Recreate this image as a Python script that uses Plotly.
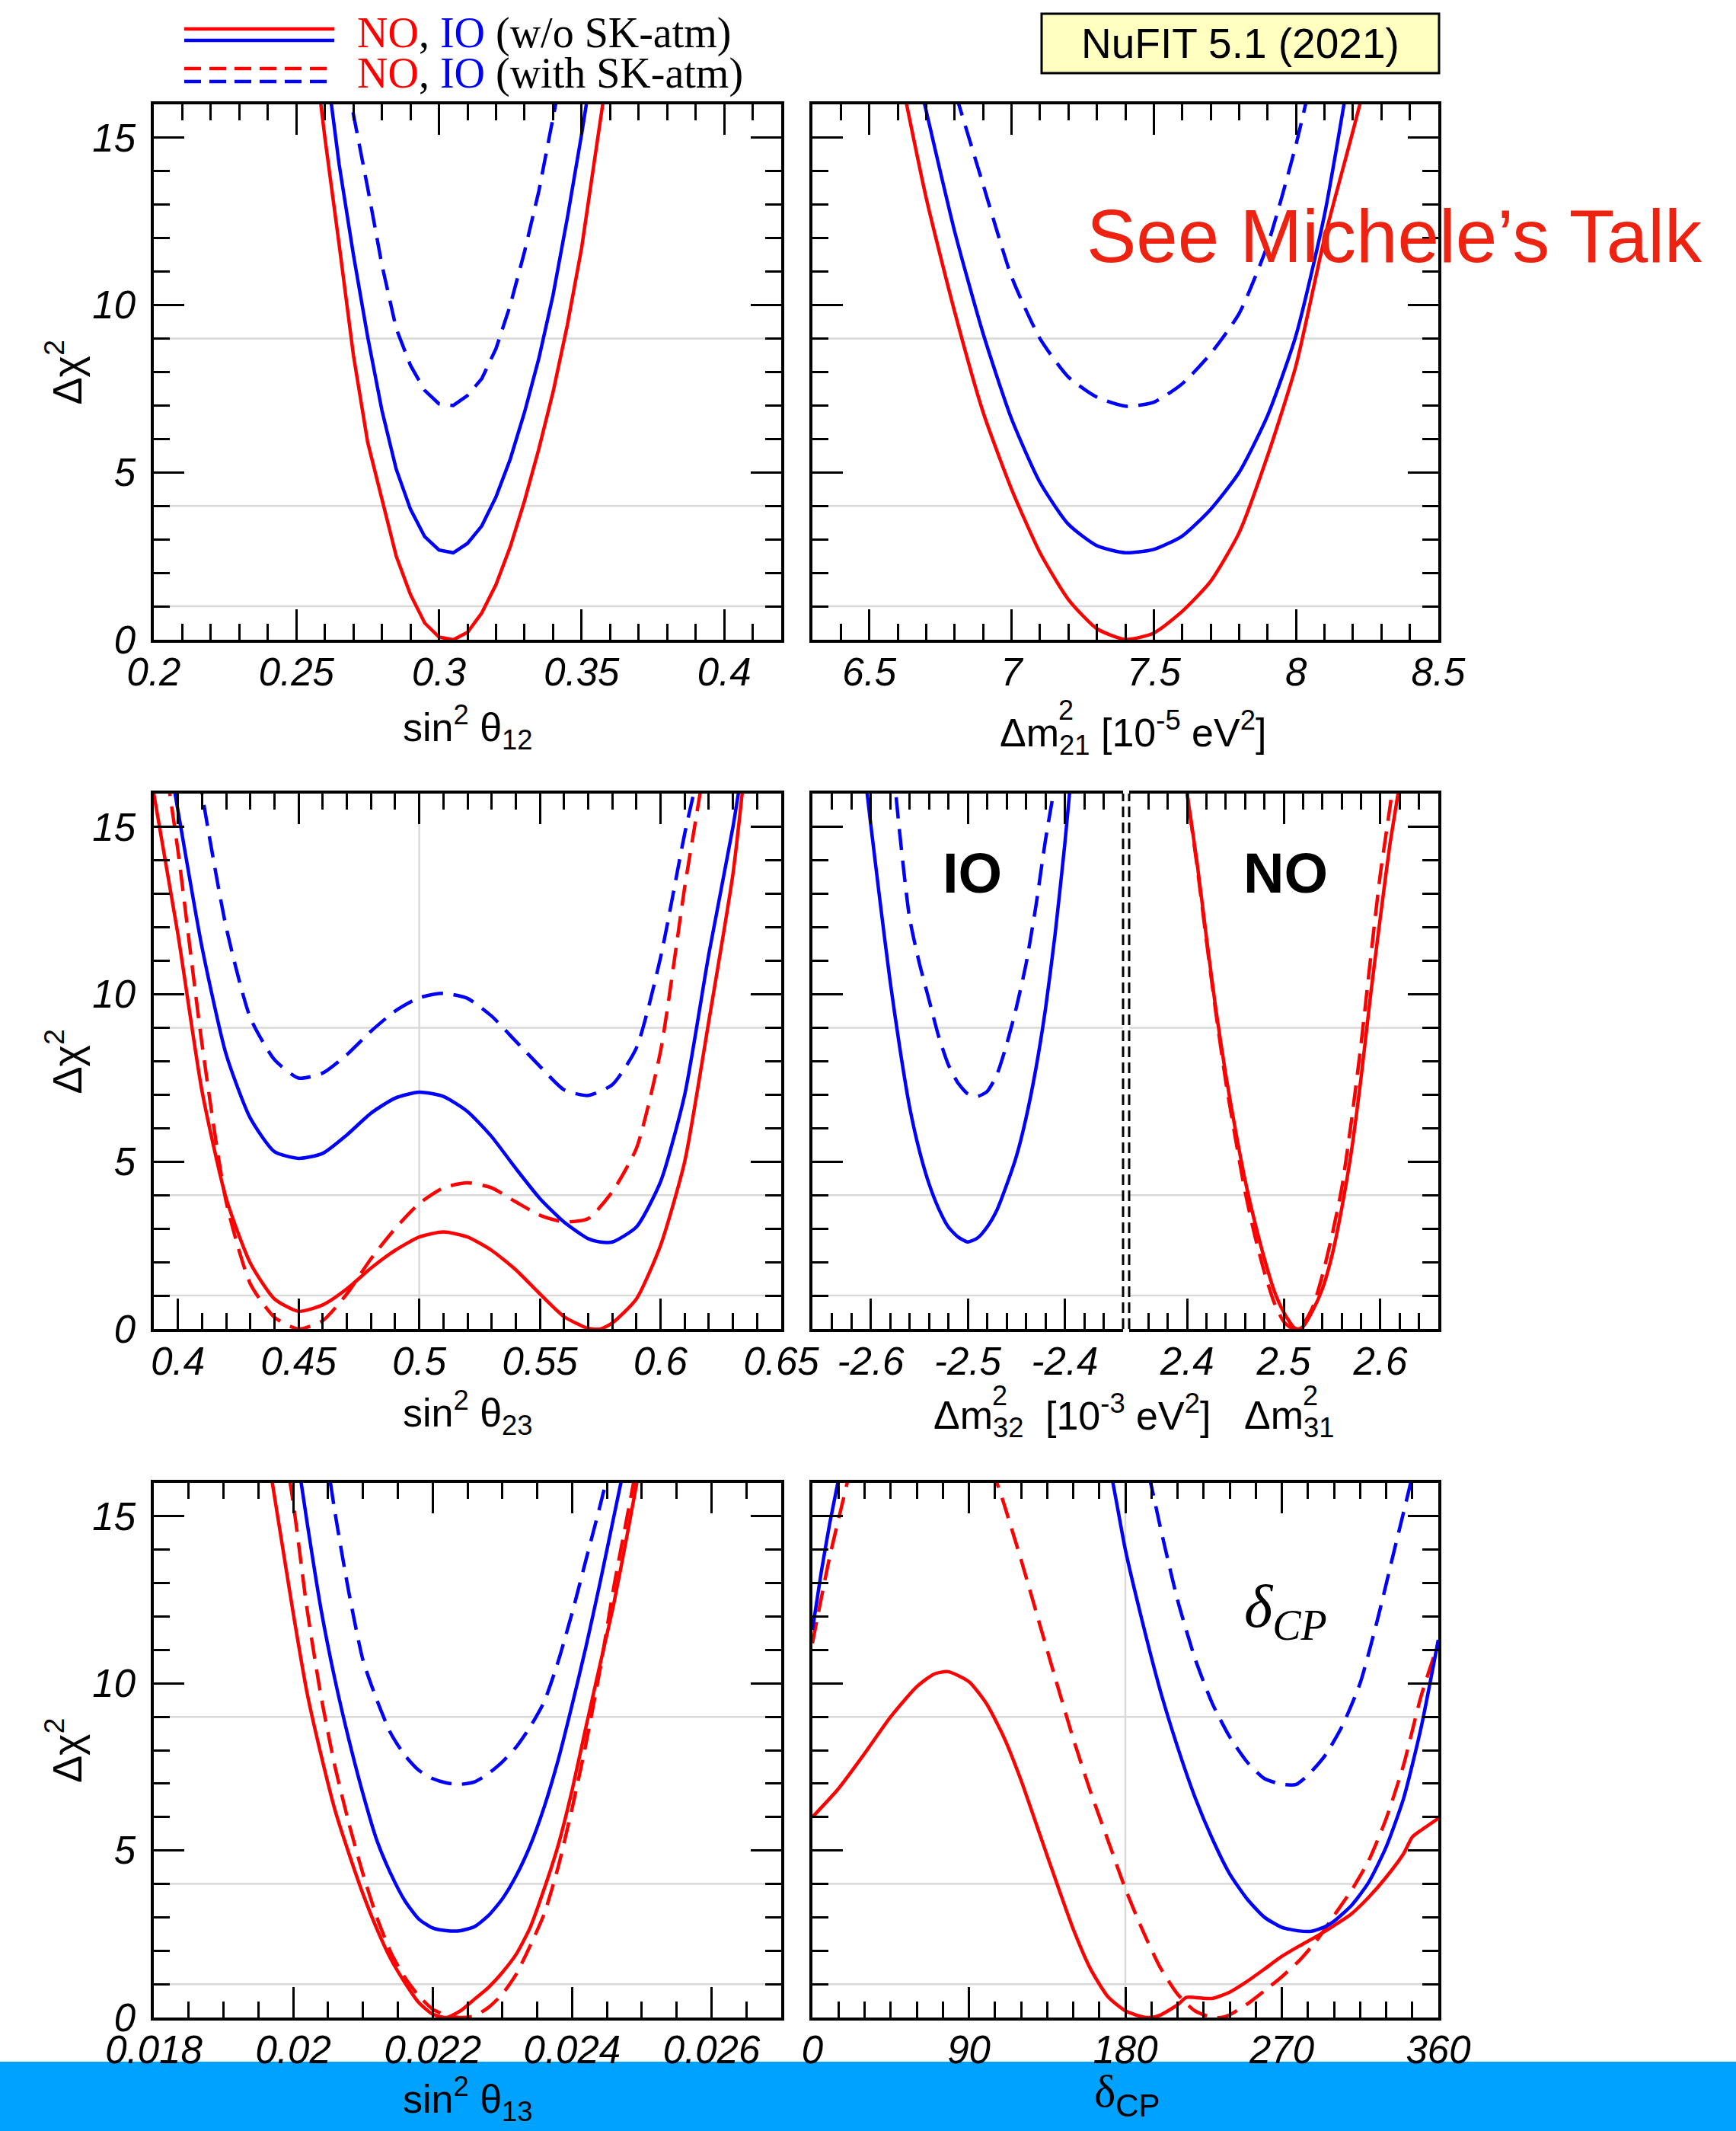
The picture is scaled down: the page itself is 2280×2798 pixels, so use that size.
import plotly.graph_objects as go

# ---------------- data: delta chi^2 profiles ----------------
# sin^2 theta_12
S12_X_NO = [0.255, 0.260, 0.265, 0.270, 0.275, 0.280, 0.285, 0.290, 0.295, 0.300, 0.305,
            0.310, 0.315, 0.320, 0.325, 0.330, 0.335, 0.340, 0.345, 0.350, 0.355, 0.360]
S12_NO = [18.5, 15.0, 11.8, 8.5, 5.9, 4.2, 2.5, 1.35, 0.5, 0.08, 0.0,
          0.22, 0.8, 1.65, 2.78, 4.15, 5.7, 7.4, 9.4, 11.7, 14.6, 17.5]
S12_X_IO = [0.260, 0.265, 0.270, 0.275, 0.280, 0.285, 0.290, 0.295, 0.300, 0.305,
            0.310, 0.315, 0.320, 0.325, 0.330, 0.335, 0.340, 0.345, 0.350, 0.355]
S12_IO = [17.5, 14.2, 11.5, 9.05, 6.85, 5.1, 3.9, 3.08, 2.68, 2.6,
          2.88, 3.4, 4.27, 5.4, 6.8, 8.4, 10.3, 12.6, 15.1, 17.8]
S12_X_IO_SK = [0.265, 0.270, 0.275, 0.280, 0.285, 0.290, 0.295, 0.300, 0.305,
               0.310, 0.315, 0.320, 0.325, 0.330, 0.335, 0.340, 0.345]
S12_IO_SK = [18.6, 15.7, 13.5, 11.2, 9.3, 8.2, 7.45, 7.05, 7.0,
             7.3, 7.8, 8.7, 10.0, 11.6, 13.4, 15.5, 17.8]

# Delta m^2_21 [1e-5 eV^2]
DM21_X_NO = [6.6, 6.7, 6.8, 6.9, 7.0, 7.1, 7.2, 7.3, 7.4, 7.5, 7.6, 7.7, 7.8, 7.9, 8.0, 8.1, 8.2, 8.3]
DM21_NO = [17.3, 13.2, 9.8, 6.8, 4.5, 2.6, 1.2, 0.33, 0.01, 0.2, 0.85, 1.75, 3.2, 5.5, 8.2, 12.0, 15.2, 18.5]
DM21_X_IO = [6.6, 6.7, 6.8, 6.9, 7.0, 7.1, 7.2, 7.3, 7.4, 7.5, 7.6, 7.7, 7.8, 7.9, 8.0, 8.1, 8.2]
DM21_IO = [19.4, 15.8, 12.2, 9.15, 6.6, 4.7, 3.45, 2.81, 2.6, 2.7, 3.1, 3.9, 5.0, 6.7, 9.1, 12.7, 17.6]
DM21_X_IO_SK = [6.7, 6.8, 6.9, 7.0, 7.1, 7.2, 7.3, 7.4, 7.5, 7.6, 7.7, 7.8, 7.9, 8.0, 8.1]
DM21_IO_SK = [19.0, 16.4, 13.6, 10.85, 9.0, 7.85, 7.25, 6.98, 7.1, 7.65, 8.55, 9.75, 11.8, 14.8, 18.5]

# sin^2 theta_23
S23_X_NO = [0.385, 0.39, 0.40, 0.41, 0.42, 0.43, 0.44, 0.45, 0.46, 0.47, 0.48, 0.49, 0.50, 0.51, 0.52,
            0.53, 0.54, 0.55, 0.56, 0.57, 0.575, 0.58, 0.59, 0.60, 0.61, 0.62, 0.63, 0.635]
S23_NO = [18.5, 16.0, 11.8, 7.1, 3.9, 1.97, 0.9, 0.53, 0.72, 1.2, 1.82, 2.35, 2.75, 2.9, 2.75,
          2.35, 1.77, 1.05, 0.37, 0.02, 0.0, 0.18, 0.9, 2.5, 5.0, 9.2, 13.6, 16.8]
S23_X_NO_SK = [0.39, 0.395, 0.40, 0.41, 0.42, 0.43, 0.44, 0.45, 0.46, 0.47, 0.48, 0.49, 0.50,
               0.51, 0.52, 0.53, 0.54, 0.55, 0.56, 0.57, 0.58, 0.59, 0.60, 0.61, 0.615, 0.62]
S23_NO_SK = [19.4, 16.8, 14.3, 8.5, 3.8, 1.35, 0.35, 0.0, 0.25, 1.05, 2.1, 3.0, 3.75,
             4.22, 4.37, 4.22, 3.8, 3.4, 3.2, 3.3, 4.1, 5.4, 8.3, 13.2, 15.4, 17.6]
S23_X_IO = [0.395, 0.40, 0.41, 0.42, 0.43, 0.44, 0.45, 0.46, 0.47, 0.48, 0.49, 0.50, 0.51, 0.52,
            0.53, 0.54, 0.55, 0.56, 0.57, 0.575, 0.58, 0.59, 0.60, 0.61, 0.62, 0.63, 0.635]
S23_IO = [17.6, 15.5, 11.4, 8.2, 6.3, 5.3, 5.1, 5.25, 5.8, 6.45, 6.9, 7.08, 6.95, 6.5,
          5.75, 4.8, 3.9, 3.2, 2.7, 2.6, 2.6, 3.05, 4.4, 7.0, 11.2, 15.0, 17.3]
S23_X_IO_SK = [0.405, 0.41, 0.42, 0.43, 0.44, 0.45, 0.46, 0.47, 0.48, 0.49, 0.50, 0.51,
               0.52, 0.53, 0.54, 0.55, 0.56, 0.57, 0.58, 0.59, 0.60, 0.61, 0.615]
S23_IO_SK = [18.5, 16.0, 12.0, 9.3, 8.05, 7.5, 7.65, 8.2, 8.9, 9.5, 9.9, 10.03,
             9.88, 9.35, 8.6, 7.85, 7.15, 6.98, 7.3, 8.4, 11.1, 14.8, 16.4]

# Delta m^2_32 (IO) and Delta m^2_31 (NO) [1e-3 eV^2]
DM32_X_IO = [-2.61, -2.60, -2.59, -2.58, -2.57, -2.56, -2.55, -2.54, -2.53, -2.52, -2.51, -2.50,
             -2.49, -2.48, -2.47, -2.46, -2.45, -2.44, -2.43, -2.42, -2.41, -2.40, -2.39]
DM32_IO = [17.6, 15.1, 12.7, 10.4, 8.4, 6.65, 5.35, 4.35, 3.6, 3.05, 2.75, 2.6,
           2.72, 3.05, 3.55, 4.3, 5.15, 6.3, 7.75, 9.55, 11.8, 14.5, 17.6]
DM32_X_IO_SK = [-2.58, -2.57, -2.56, -2.55, -2.54, -2.53, -2.52, -2.51, -2.50,
                -2.49, -2.48, -2.47, -2.46, -2.45, -2.44, -2.43, -2.42, -2.41]
DM32_IO_SK = [17.8, 14.8, 12.3, 10.95, 9.85, 8.75, 7.9, 7.35, 7.03,
              6.95, 7.1, 7.6, 8.5, 9.6, 10.9, 12.6, 14.6, 16.3]
DM31_X_NO = [2.39, 2.40, 2.41, 2.42, 2.43, 2.44, 2.45, 2.46, 2.47, 2.48, 2.49, 2.50, 2.51, 2.515,
             2.52, 2.53, 2.54, 2.55, 2.56, 2.57, 2.58, 2.59, 2.60, 2.61, 2.62, 2.63]
DM31_NO = [18.3, 16.0, 14.0, 11.7, 9.5, 7.6, 5.95, 4.45, 3.2, 2.1, 1.15, 0.5, 0.06, 0.0,
           0.07, 0.55, 1.2, 2.2, 3.6, 5.3, 7.5, 10.0, 12.3, 14.5, 16.3, 18.5]
DM31_X_NO_SK = [2.39, 2.40, 2.41, 2.42, 2.43, 2.44, 2.45, 2.46, 2.47, 2.48, 2.49, 2.50, 2.51,
                2.52, 2.53, 2.54, 2.55, 2.56, 2.57, 2.58, 2.59, 2.60, 2.61, 2.62]
DM31_NO_SK = [18.3, 16.0, 13.9, 11.6, 9.4, 7.4, 5.7, 4.1, 2.8, 1.7, 0.8, 0.22, 0.0,
              0.15, 0.65, 1.6, 2.8, 4.2, 6.2, 8.5, 11.1, 13.6, 15.6, 17.8]

# sin^2 theta_13
S13_X_NO = [0.0196, 0.0198, 0.0200, 0.0202, 0.0204, 0.0206, 0.0208, 0.0210, 0.0212, 0.0214,
            0.0216, 0.0218, 0.0220, 0.0222, 0.0224, 0.0226, 0.0228, 0.0230, 0.0232, 0.0234,
            0.0236, 0.0238, 0.0240, 0.0242, 0.0244, 0.0246, 0.0248, 0.0250]
S13_NO = [17.3, 14.7, 12.1, 9.7, 7.85, 6.2, 4.9, 3.7, 2.65, 1.75,
          1.05, 0.45, 0.1, 0.0, 0.2, 0.55, 0.9, 1.35, 1.9, 2.7,
          3.85, 5.15, 6.8, 8.7, 10.55, 12.4, 14.55, 16.8]
S13_X_NO_SK = [0.0198, 0.0200, 0.0202, 0.0204, 0.0206, 0.0208, 0.0210, 0.0212, 0.0214,
               0.0216, 0.0218, 0.0220, 0.0222, 0.0224, 0.0226, 0.0228, 0.0230, 0.0232, 0.0234,
               0.0236, 0.0238, 0.0240, 0.0242, 0.0244, 0.0246, 0.0248, 0.0250]
S13_NO_SK = [18.0, 15.4, 12.2, 9.6, 7.5, 5.8, 4.3, 3.0, 1.95,
             1.2, 0.65, 0.25, 0.07, 0.0, 0.05, 0.3, 0.7, 1.3, 2.15,
             3.1, 4.5, 6.25, 8.2, 10.4, 12.9, 15.1, 17.3]
S13_X_IO = [0.0200, 0.0202, 0.0204, 0.0206, 0.0208, 0.0210, 0.0212, 0.0214, 0.0216, 0.0218,
            0.0220, 0.0222, 0.0224, 0.0226, 0.0228, 0.0230, 0.0232, 0.0234, 0.0236, 0.0238,
            0.0240, 0.0242, 0.0244, 0.0246, 0.0248]
S13_IO = [17.6, 14.8, 12.2, 10.1, 8.3, 6.7, 5.3, 4.3, 3.5, 2.95,
          2.68, 2.6, 2.6, 2.72, 3.05, 3.55, 4.25, 5.15, 6.3, 7.7,
          9.35, 11.1, 13.0, 15.0, 17.0]
S13_X_IO_SK = [0.0204, 0.0206, 0.0208, 0.0210, 0.0212, 0.0214, 0.0216, 0.0218, 0.0220, 0.0222,
               0.0224, 0.0226, 0.0228, 0.0230, 0.0232, 0.0234, 0.0236, 0.0238, 0.0240, 0.0242,
               0.0244, 0.0246]
S13_IO_SK = [17.9, 15.1, 12.7, 10.7, 9.5, 8.5, 7.85, 7.4, 7.15, 7.02,
             6.98, 7.05, 7.3, 7.65, 8.1, 8.7, 9.45, 10.65, 12.1, 13.7,
             15.3, 17.0]

# delta_CP [deg]
DCP_X_NO = [0, 15, 30, 45, 60, 70, 78, 90, 100, 110, 120, 130, 140, 150, 160, 170, 180, 190, 195,
            200, 210, 215, 220, 230, 240, 250, 260, 270, 280, 290, 300, 310, 320, 330, 340, 345, 350, 360]
DCP_NO = [6.0, 6.85, 7.9, 9.0, 9.9, 10.28, 10.35, 10.05, 9.4, 8.4, 7.1, 5.6, 4.1, 2.65, 1.45, 0.62, 0.2,
          0.02, 0.0, 0.07, 0.38, 0.6, 0.6, 0.57, 0.76, 1.08, 1.45, 1.83, 2.14, 2.43, 2.75, 3.1, 3.6,
          4.2, 4.9, 5.4, 5.6, 5.96]
DCP_X_NO_SK = [0, 10, 20, 25, 30, 100, 105, 110, 120, 130, 140, 150, 160, 170, 180, 190, 200,
               210, 220, 230, 235, 240, 250, 260, 270, 280, 290, 300, 310, 320, 330, 340, 350, 360]
DCP_NO_SK = [11.2, 13.8, 16.0, 17.2, 18.5, 17.6, 16.2, 15.4, 13.7, 11.9, 10.1, 8.35, 6.75, 5.3,
             3.85, 2.6, 1.5, 0.7, 0.2, 0.0, 0.0, 0.08, 0.4, 0.8, 1.22, 1.7, 2.3, 3.05, 3.8, 4.7,
             5.95, 7.55, 9.6, 11.2]
DCP_X_IO = [0, 5, 10, 15, 20, 25, 165, 170, 175, 180, 190, 200, 210, 220, 230, 240, 250, 260,
            270, 280, 287, 295, 300, 310, 320, 330, 340, 350, 360]
DCP_IO = [11.6, 13.3, 14.8, 16.1, 17.5, 18.8, 18.2, 16.8, 15.4, 14.0, 11.8, 9.8, 8.1, 6.6, 5.35,
          4.3, 3.55, 3.0, 2.7, 2.59, 2.58, 2.72, 2.88, 3.35, 4.05, 5.1, 6.55, 8.65, 11.3]
DCP_X_IO_SK = [185, 190, 195, 200, 210, 220, 230, 240, 250, 260, 270, 278, 285, 295, 305,
               315, 325, 335, 345, 350]
DCP_IO_SK = [18.1, 16.95, 15.9, 14.7, 12.5, 10.75, 9.4, 8.4, 7.65, 7.15, 6.98, 6.97, 7.25,
             7.85, 8.75, 10.0, 11.9, 14.05, 16.2, 17.5]

# ---------------- axis ticks ----------------
Y_TICKS = [0, 5, 10, 15]
S12_TICKS = [0.2, 0.25, 0.3, 0.35, 0.4]
DM21_TICKS = [6.5, 7, 7.5, 8, 8.5]
S23_TICKS = [0.4, 0.45, 0.5, 0.55, 0.6, 0.65]
DM32_TICKS = [-2.6, -2.5, -2.4]
DM31_TICKS = [2.4, 2.5, 2.6]
S13_TICKS = [0.018, 0.02, 0.022, 0.024, 0.026]
DCP_TICKS = [0, 90, 180, 270, 360]
GRID_LEVELS = [1, 4, 9]

# ---------------- page geometry ----------------
W, H = 2280, 2798


def px(x):
    return x / W


def py(y):
    return 1 - y / H


RED = "#FF0000"
BLUE = "#0000FF"
SANS = "Liberation Sans, Arial, Helvetica, sans-serif"
SERIF = "Liberation Serif, Times New Roman, serif"
TICKFONT = dict(family=SANS, size=51, color="black", style="italic")
LW = 4.5
DASH = "28px,14px"

COL_L = [px(202), px(1026)]
COL_R = [px(1067), px(1889)]
COL_R_A = [px(1067), px(1475)]
COL_R_B = [px(1483), px(1889)]
ROW1 = [py(840), py(137)]
ROW2 = [py(1745), py(1042)]
ROW3 = [py(2649), py(1947)]


def fmt(v):
    return "%g" % v


def xax(domain, rng, ticks, m0, mdt, anchor, labels=True):
    return dict(domain=domain, range=rng, anchor=anchor,
                tickmode="array", tickvals=ticks, ticktext=[fmt(t) for t in ticks],
                ticks="inside", ticklen=40, tickwidth=3, tickcolor="black",
                minor=dict(ticks="inside", ticklen=21, tickwidth=3, tickcolor="black",
                           tick0=m0, dtick=mdt, showgrid=False),
                showline=True, linecolor="black", linewidth=3.5, mirror="allticks",
                showgrid=False, zeroline=False, tickfont=TICKFONT, automargin=False,
                showticklabels=labels, ticklabelstandoff=-5, fixedrange=True)


def yax(domain, anchor, labels, side="left", mirror="allticks"):
    return dict(domain=domain, range=[0, 16], anchor=anchor, side=side,
                tickmode="array", tickvals=Y_TICKS, ticktext=[str(t) for t in Y_TICKS],
                ticks="inside", ticklen=40, tickwidth=3, tickcolor="black",
                minor=dict(ticks="inside", ticklen=21, tickwidth=3, tickcolor="black",
                           tick0=0, dtick=1, showgrid=False),
                showline=True, linecolor="black", linewidth=3.5, mirror=mirror,
                showgrid=False, zeroline=False, tickfont=TICKFONT, automargin=False,
                showticklabels=labels, ticklabelstandoff=10, fixedrange=True)


fig = go.Figure()


def curve(x, y, color, dashed, ax, shape="spline"):
    fig.add_trace(go.Scatter(
        x=x, y=y, mode="lines", xaxis="x" + ax, yaxis="y" + ax,
        line=dict(color=color, width=LW, dash=DASH if dashed else "solid",
                  shape=shape, smoothing=0.6 if shape == "spline" else None),
        showlegend=False, hoverinfo="skip"))


# panel 1: sin^2 theta12
curve(S12_X_NO, S12_NO, RED, False, "", shape="linear")
curve(S12_X_IO, S12_IO, BLUE, False, "", shape="linear")
curve(S12_X_IO_SK, S12_IO_SK, BLUE, True, "", shape="linear")
# panel 2: dm21
curve(DM21_X_NO, DM21_NO, RED, False, "2")
curve(DM21_X_IO, DM21_IO, BLUE, False, "2")
curve(DM21_X_IO_SK, DM21_IO_SK, BLUE, True, "2")
# panel 3: sin^2 theta23
curve(S23_X_NO, S23_NO, RED, False, "3")
curve(S23_X_NO_SK, S23_NO_SK, RED, True, "3")
curve(S23_X_IO, S23_IO, BLUE, False, "3")
curve(S23_X_IO_SK, S23_IO_SK, BLUE, True, "3")
# panel 4: dm32 (IO) | dm31 (NO)
curve(DM32_X_IO, DM32_IO, BLUE, False, "4")
curve(DM32_X_IO_SK, DM32_IO_SK, BLUE, True, "4")
curve(DM31_X_NO, DM31_NO, RED, False, "5")
curve(DM31_X_NO_SK, DM31_NO_SK, RED, True, "5")
# panel 5: sin^2 theta13
curve(S13_X_NO, S13_NO, RED, False, "6")
curve(S13_X_NO_SK, S13_NO_SK, RED, True, "6")
curve(S13_X_IO, S13_IO, BLUE, False, "6")
curve(S13_X_IO_SK, S13_IO_SK, BLUE, True, "6")
# panel 6: delta_CP
curve(DCP_X_NO, DCP_NO, RED, False, "7")
curve(DCP_X_NO_SK, DCP_NO_SK, RED, True, "7")
curve(DCP_X_IO, DCP_IO, BLUE, False, "7")
curve(DCP_X_IO_SK, DCP_IO_SK, BLUE, True, "7")

layout = dict(
    width=W, height=H, autosize=False,
    margin=dict(l=0, r=0, t=0, b=0, pad=0, autoexpand=False),
    paper_bgcolor="white", plot_bgcolor="white", showlegend=False,
    xaxis=xax(COL_L, [0.2, 0.42], S12_TICKS, 0.2, 0.01, "y"),
    yaxis=yax(ROW1, "x", True),
    xaxis2=xax(COL_R, [6.3, 8.5], DM21_TICKS, 6.3, 0.1, "y2"),
    yaxis2=yax(ROW1, "x2", False),
    xaxis3=xax(COL_L, [0.39, 0.65], S23_TICKS, 0.39, 0.01, "y3"),
    yaxis3=yax(ROW2, "x3", True),
    xaxis4=xax(COL_R_A, [-2.66, -2.34], DM32_TICKS, -2.66, 0.02, "y4"),
    yaxis4=yax(ROW2, "x4", False, side="left", mirror=False),
    xaxis5=xax(COL_R_B, [2.34, 2.66], DM31_TICKS, 2.34, 0.02, "y5"),
    yaxis5=yax(ROW2, "x5", False, side="right", mirror=False),
    xaxis6=xax(COL_L, [0.018, 0.027], S13_TICKS, 0.018, 0.0005, "y6"),
    yaxis6=yax(ROW3, "x6", True),
    xaxis7=xax(COL_R, [0, 360], DCP_TICKS, 0, 15, "y7"),
    yaxis7=yax(ROW3, "x7", False),
)
fig.update_layout(**layout)

shapes = []
# bottom band
shapes.append(dict(type="rect", xref="paper", yref="paper", x0=0, x1=1, y0=0, y1=py(2707),
                   fillcolor="#00A2FF", line=dict(width=0), layer="below"))
# reference levels 1, 4, 9
for ax in ["", "2", "3", "4", "5", "6", "7"]:
    for lev in GRID_LEVELS:
        shapes.append(dict(type="line", xref=("x" + ax + " domain"), yref="y" + ax,
                           x0=0, x1=1, y0=lev, y1=lev,
                           line=dict(color="#D9D9D9", width=2.5), layer="below"))
shapes.append(dict(type="line", xref="x3", yref="y3 domain", x0=0.5, x1=0.5, y0=0, y1=1,
                   line=dict(color="#D9D9D9", width=2.5), layer="below"))
shapes.append(dict(type="line", xref="x7", yref="y7 domain", x0=180, x1=180, y0=0, y1=1,
                   line=dict(color="#D9D9D9", width=2.5), layer="below"))
# separators between IO and NO halves
for xs in [1475, 1483]:
    shapes.append(dict(type="line", xref="paper", yref="paper", x0=px(xs), x1=px(xs),
                       y0=ROW2[0], y1=ROW2[1], line=dict(color="black", width=3, dash="14px,7px")))
# legend sample lines
for yy, col, dsh in [(38, RED, "solid"), (53, BLUE, "solid"), (90, RED, "22px,11px"), (107, BLUE, "22px,11px")]:
    shapes.append(dict(type="line", xref="paper", yref="paper", x0=px(242), x1=px(439),
                       y0=py(yy), y1=py(yy), line=dict(color=col, width=4.5, dash=dsh)))
# version box
shapes.append(dict(type="rect", xref="paper", yref="paper", x0=px(1368), x1=px(1890),
                   y0=py(96), y1=py(18), fillcolor="#FFFFC0", line=dict(color="black", width=3)))
fig.update_layout(shapes=shapes)

ann = []


def text(x, y, s, size, family=SANS, color="black", xanchor="center", angle=0, **kw):
    ann.append(dict(x=px(x), y=py(y), xref="paper", yref="paper", text=s, showarrow=False,
                    xanchor=xanchor, yanchor="middle", textangle=angle,
                    font=dict(family=family, size=size, color=color, **kw)))


def dm_label(x0, yc, sub, rest=""):
    # Delta m with the exponent 2 stacked above the index
    text(x0, yc, "Δm<sub>%s</sub>%s" % (sub, rest), 52, xanchor="left")
    text(x0 + 77, yc - 30, "2", 36, xanchor="left")


# legend text
text(467, 44, "<span style='color:#FF0000'>NO</span>, <span style='color:#0000FF'>IO</span> (w/o SK-atm)",
     56, family=SERIF, xanchor="left")
text(467, 97, "<span style='color:#FF0000'>NO</span>, <span style='color:#0000FF'>IO</span> (with SK-atm)",
     56, family=SERIF, xanchor="left")
text(1629, 57, "NuFIT 5.1 (2021)", 55)
text(1831, 310, "See Michele’s Talk", 98, color="#EE2211")
# panel labels
text(1277, 1146, "<b>IO</b>", 74)
text(1688, 1146, "<b>NO</b>", 74)
text(1688, 2115, "δ<sub>CP</sub>", 80, family=SERIF, style="italic")
# axis titles
for yc in [(137 + 840) / 2, (1042 + 1745) / 2, (1947 + 2649) / 2]:
    text(84, yc, "Δχ<sup>2</sup>", 54, angle=-90)
text(614, 955, "sin<sup>2</sup> θ<sub>12</sub>", 52)
dm_label(1311, 962, "21", " [10<sup>-5</sup> eV<sup>2</sup>]")
text(614, 1855, "sin<sup>2</sup> θ<sub>23</sub>", 52)
dm_label(1224, 1862, "32")
text(1481, 1855, "[10<sup>-3</sup> eV<sup>2</sup>]", 52)
dm_label(1632, 1862, "31")
text(614, 2756, "sin<sup>2</sup> θ<sub>13</sub>", 52)
text(1480, 2750, "<span style='font-family:Liberation Serif'>δ</span><sub>CP</sub>", 60)
fig.update_layout(annotations=ann)

fig.write_html("out.html")
